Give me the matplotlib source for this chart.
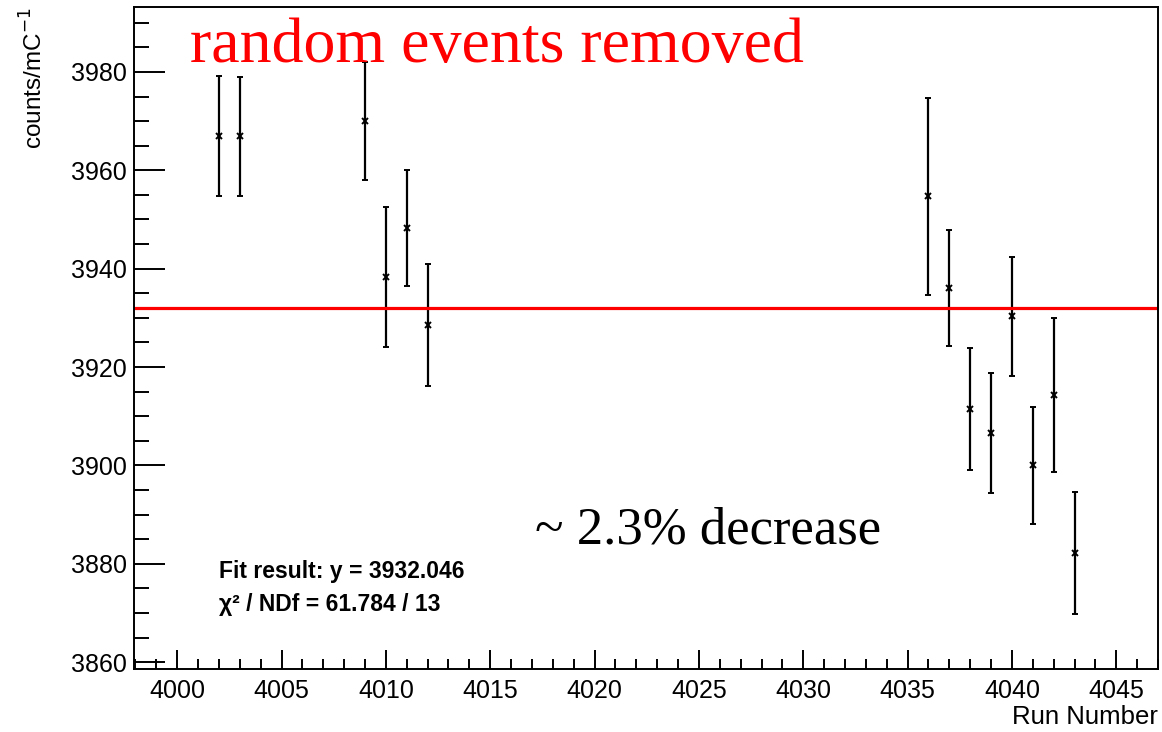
import numpy as np
import matplotlib.pyplot as plt
from matplotlib.ticker import MultipleLocator

# run numbers and normalized yields
runs = [4002, 4003, 4009, 4010, 4011, 4012,
        4036, 4037, 4038, 4039, 4040, 4041, 4042, 4043]
yields = [3967.0, 3966.9, 3970.0, 3938.3, 3948.2, 3928.5,
          3954.7, 3936.0, 3911.4, 3906.5, 3930.3, 3900.0, 3914.3, 3882.2]
errors = [12.2, 12.1, 12.0, 14.3, 11.8, 12.4,
          20.1, 11.8, 12.4, 12.2, 12.1, 11.9, 15.7, 12.4]
fit_value = 3932.046

sans = 'Liberation Sans'
serif = 'Liberation Serif'

fig = plt.figure(figsize=(11.62, 7.32), dpi=100)
ax = fig.add_axes([0.1153, 0.0861, 0.8813, 0.9043])

ax.errorbar(runs, yields, yerr=errors, fmt='x', color='black', ms=4.5,
            mew=1.4, elinewidth=1.6, capsize=2.2, capthick=1.6)
ax.axhline(fit_value, color='red', lw=2.3)

ax.set_xlim(3997.93, 4047.0)
ax.set_ylim(3858.6, 3993.2)

# ROOT-like ticks
ax.xaxis.set_major_locator(MultipleLocator(5))
ax.xaxis.set_minor_locator(MultipleLocator(1))
ax.yaxis.set_major_locator(MultipleLocator(20))
ax.yaxis.set_minor_locator(MultipleLocator(5))
ax.tick_params(axis='x', which='major', direction='in', length=14, width=1.4, pad=7)
ax.tick_params(axis='x', which='minor', direction='in', length=7, width=1.4)
ax.tick_params(axis='y', which='major', direction='in', length=22, width=1.4, pad=5)
ax.tick_params(axis='y', which='minor', direction='in', length=11, width=1.4)
for lab in ax.get_xticklabels() + ax.get_yticklabels():
    lab.set_fontfamily(sans)
    lab.set_fontsize(18)
for s in ax.spines.values():
    s.set_linewidth(1.4)

ax.set_xlabel('Run Number', family=sans, fontsize=18.5)
ax.xaxis.set_label_coords(1.0, -0.09)
ax.xaxis.label.set_horizontalalignment('right')
ax.xaxis.label.set_verticalalignment('bottom')
ax.set_ylabel('counts/mC$^{-1}$', family=sans, fontsize=17.5)
ax.yaxis.set_label_coords(-0.098, 1.0)
ax.yaxis.label.set_verticalalignment('center')
ax.yaxis.label.set_horizontalalignment('right')

# annotations
fig.text(190 / 1162, 1 - 62 / 732, 'random events removed', color='red',
         family=serif, fontsize=46, va='baseline')
fig.text(535 / 1162, 1 - 543 / 732, '~ 2.3% decrease', color='black',
         family=serif, fontsize=38, va='baseline')
fig.text(219 / 1162, 1 - 578 / 732, 'Fit result: y = %.3f' % fit_value,
         family=sans, fontsize=16.5, weight='bold', va='baseline')
fig.text(219 / 1162, 1 - 611 / 732, 'χ² / NDf = 61.784 / 13',
         family=sans, fontsize=16.5, weight='bold', va='baseline')

fig.savefig('out.png', dpi=100)
